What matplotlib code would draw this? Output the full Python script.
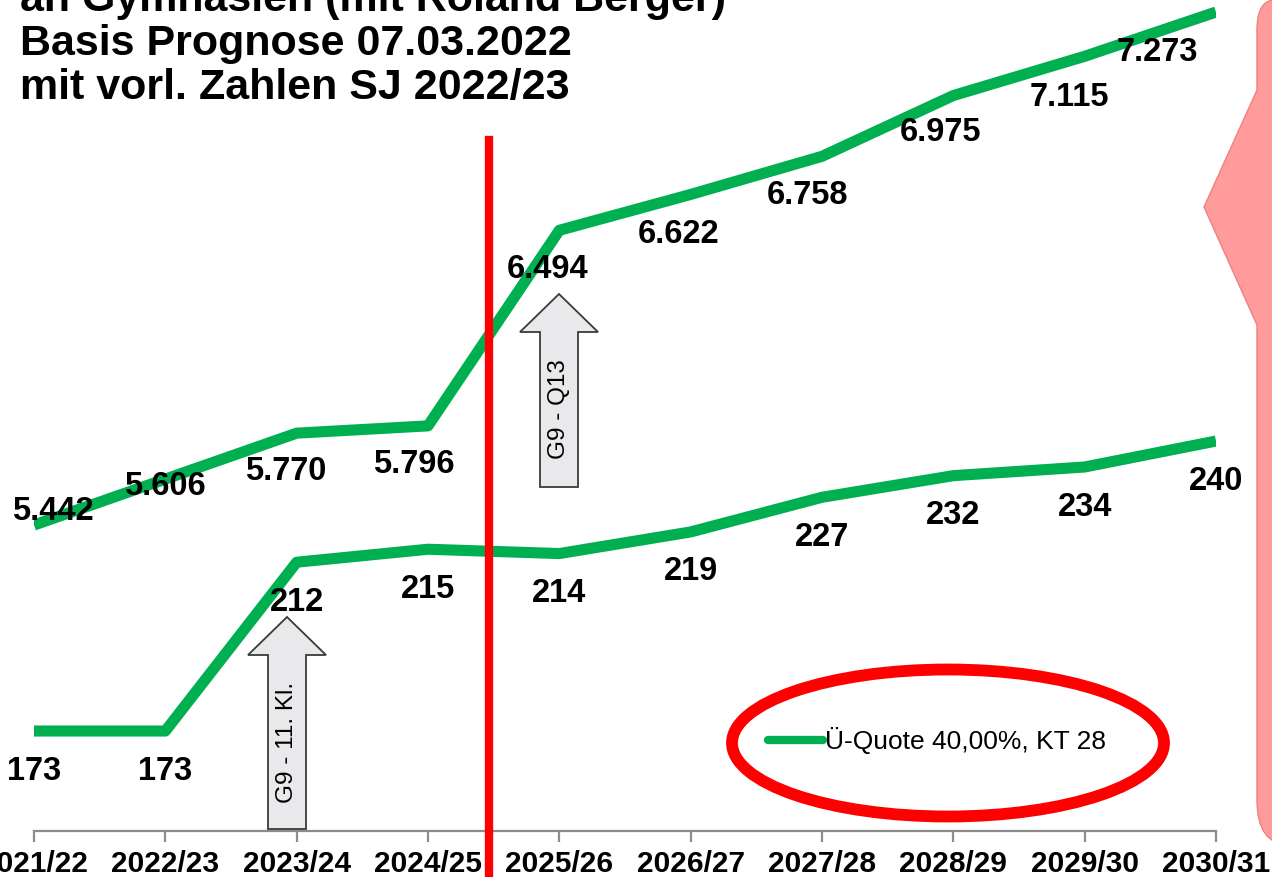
import matplotlib
matplotlib.use("Agg")
import matplotlib.pyplot as plt
from matplotlib.patches import Ellipse, Polygon, PathPatch
from matplotlib.path import Path
from matplotlib.lines import Line2D

# data
years = ["2021/22", "2022/23", "2023/24", "2024/25", "2025/26",
         "2026/27", "2027/28", "2028/29", "2029/30", "2030/31"]
pupils = [5442, 5606, 5770, 5796, 6494, 6622, 6758, 6975, 7115, 7273]
classes = [173, 173, 212, 215, 214, 219, 227, 232, 234, 240]
series_name = "Ü-Quote 40,00%, KT 28"
title_lines = ["an Gymnasien (mit Roland Berger)",
               "Basis Prognose 07.03.2022",
               "mit vorl. Zahlen SJ 2022/23"]

W, H = 1272, 877
GREEN = "#00B050"


def fx(x):
    return x / W


def fy(y):
    return 1 - y / H


fig = plt.figure(figsize=(W / 100, H / 100), dpi=100)
ax = fig.add_axes([fx(34), fy(831), fx(1216) - fx(34), fy(0) - fy(831)])
ax2 = ax.twinx()

x = list(range(len(years)))
ax.plot(x, pupils, color=GREEN, lw=8, solid_capstyle="butt",
        solid_joinstyle="round", zorder=3)
ax2.plot(x, classes, color=GREEN, lw=8, solid_capstyle="butt",
         solid_joinstyle="round", zorder=3)

ax.set_xlim(0, len(years) - 1)
ax.set_ylim(4350, 7316)
ax2.set_ylim(149.9, 341.9)

# data labels (offsets in pixels)
top_off = [(19, 14), (0, -7), (-11, -38), (-14, -39), (-12, -39),
           (-12, -40), (-14, -39), (-13, -37), (-15, -41), (-59, -40)]
for i, v in enumerate(pupils):
    ax.annotate(f"{v:,}".replace(",", "."), (i, v), xytext=top_off[i],
                textcoords="offset pixels", ha="center", va="center",
                fontsize=23.5, fontweight="bold", family="Liberation Sans",
                annotation_clip=False, zorder=5)
for i, v in enumerate(classes):
    ax2.annotate(str(v), (i, v), xytext=(0, -40),
                 textcoords="offset pixels", ha="center", va="center",
                 fontsize=23.5, fontweight="bold", family="Liberation Sans",
                 annotation_clip=False, zorder=5)

# axes styling
for a in (ax, ax2):
    for s in ("left", "right", "top"):
        a.spines[s].set_visible(False)
    a.set_yticks([])
ax.spines["bottom"].set_color("#8C8C8C")
ax.spines["bottom"].set_linewidth(1.6)
ax2.spines["bottom"].set_visible(False)
ax.set_xticks(x)
ax.set_xticklabels(years, fontsize=21.5, fontweight="bold",
                   family="Liberation Sans")
ax.tick_params(axis="x", direction="out", length=8, width=1.6,
               color="#8C8C8C", pad=6)

# title (top line is cut off by the figure edge)
for k, line in enumerate(title_lines):
    fig.text(fx(20), fy(11 + 44 * k), line, fontsize=31, fontweight="bold",
             family="Liberation Sans", va="baseline", ha="left")

# red vertical divider
fig.add_artist(Line2D([fx(489), fx(489)], [fy(140), 0], color="#FF0000",
                      lw=6, transform=fig.transFigure, zorder=6))


def up_arrow(cx, tip, base, bottom, half_head, half_body, label, size):
    pts = [(cx, tip), (cx + half_head, base), (cx + half_body, base),
           (cx + half_body, bottom), (cx - half_body, bottom),
           (cx - half_body, base), (cx - half_head, base)]
    poly = Polygon([(fx(a), fy(b)) for a, b in pts], closed=True,
                   transform=fig.transFigure, facecolor="#E9E9EB",
                   edgecolor="#3A3A3A", lw=1.3, zorder=7)
    fig.add_artist(poly)
    fig.text(fx(cx), fy((base + bottom) / 2), label, rotation=90,
             ha="center", va="center", fontsize=size,
             family="Liberation Sans", zorder=8)


up_arrow(287, 617, 655, 829, 39, 19, "G9 - 11. Kl.", 17.5)
up_arrow(559, 294, 332, 487, 39, 19, "G9 - Q13", 17.5)

# legend inside red ellipse
leg = ax.legend([Line2D([], [], color=GREEN, lw=6, solid_capstyle="round")],
                [series_name], loc="center left",
                bbox_to_anchor=(fx(768), fy(741)),
                bbox_transform=fig.transFigure, frameon=False,
                handlelength=2.1, handletextpad=0.05, borderpad=0,
                borderaxespad=0, prop={"family": "Liberation Sans", "size": 19})
leg.set_zorder(9)
fig.add_artist(Ellipse((fx(948), fy(743)), fx(432), 147 / H,
                       transform=fig.transFigure, fill=False,
                       edgecolor="#FF0000", lw=8.5, zorder=9))

# pink callout at the right edge
verts = [(1290, 0), (1275, 0), (1257, 0), (1257, 30), (1257, 90), (1204, 207),
         (1257, 325), (1257, 800), (1257, 845), (1290, 845), (1290, 0)]
codes = [Path.MOVETO, Path.LINETO, Path.CURVE3, Path.CURVE3, Path.LINETO,
         Path.LINETO, Path.LINETO, Path.LINETO, Path.CURVE3, Path.CURVE3,
         Path.CLOSEPOLY]
callout = PathPatch(Path([(fx(a), fy(b)) for a, b in verts], codes),
                    transform=fig.transFigure, facecolor="#FF9B9B",
                    edgecolor="#F08080", lw=1, zorder=2)
fig.add_artist(callout)

fig.savefig("out.png", dpi=100)
